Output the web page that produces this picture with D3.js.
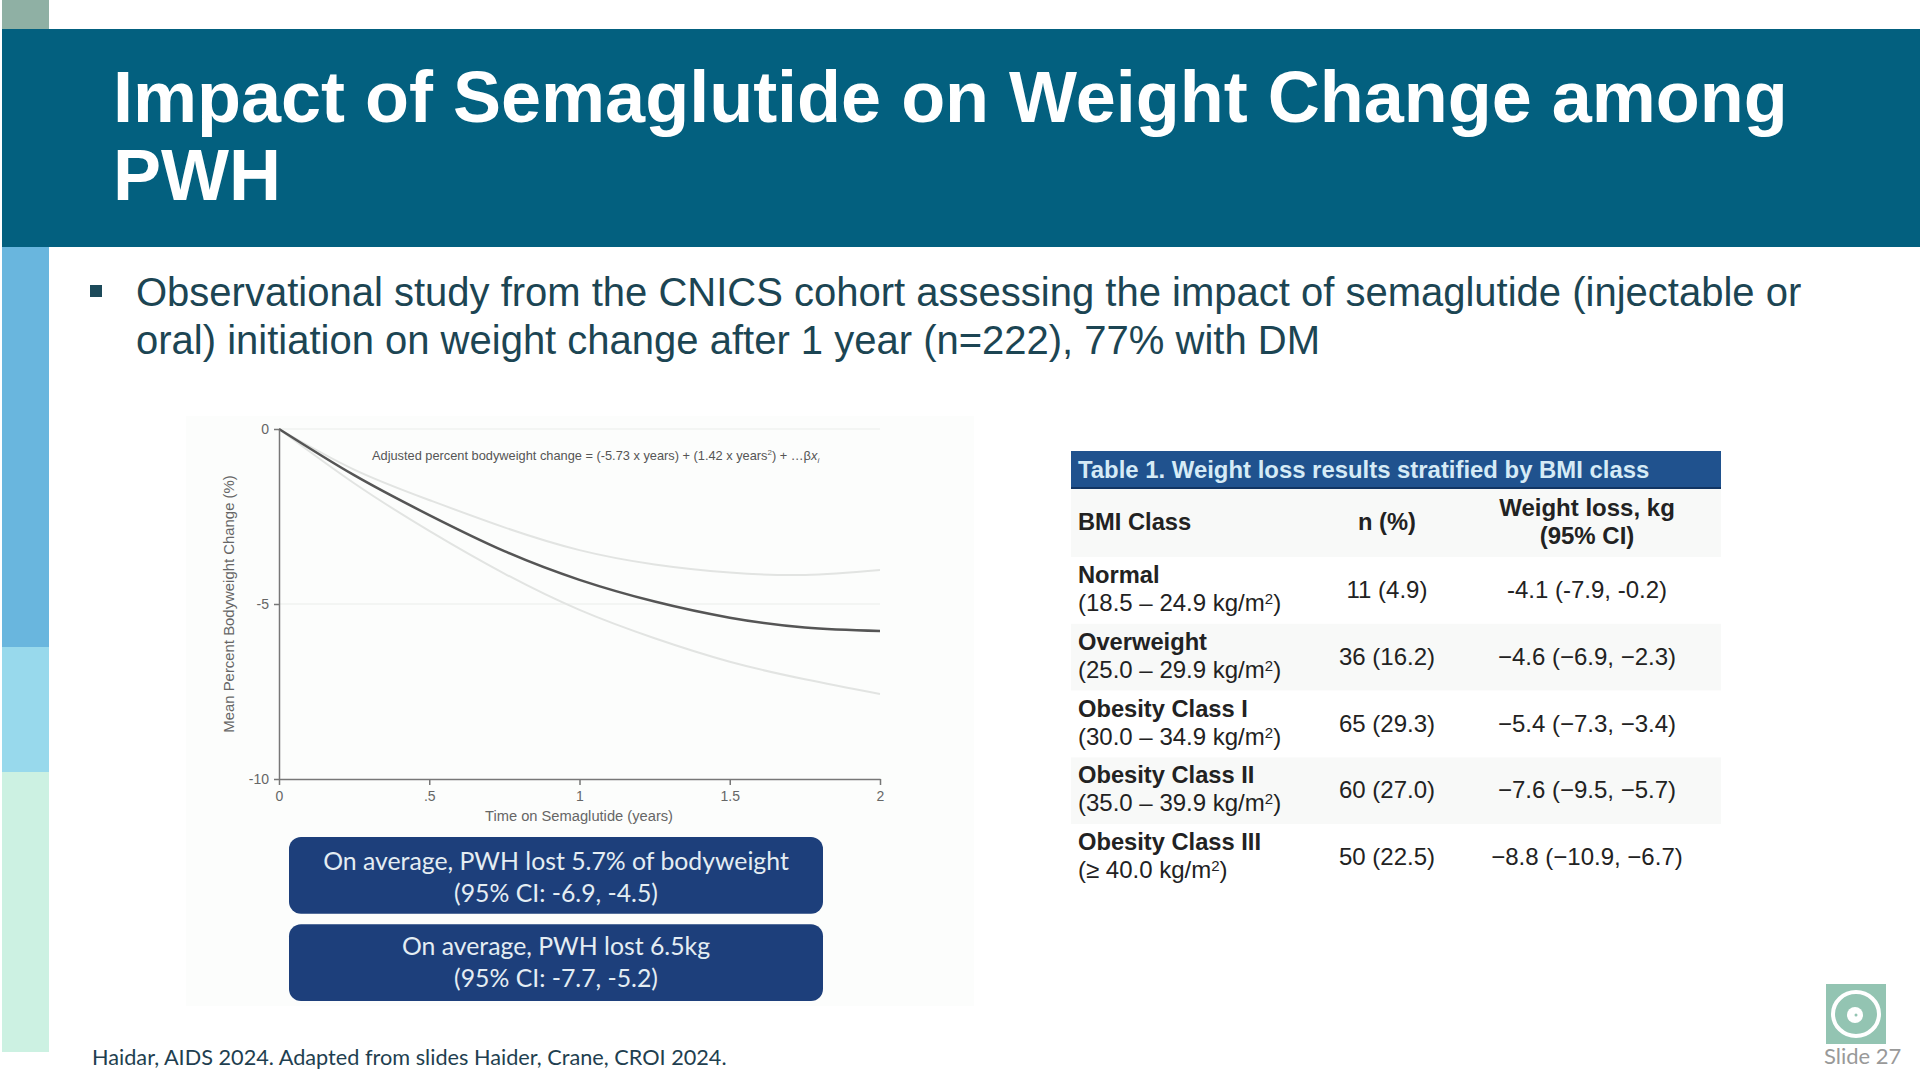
<!DOCTYPE html>
<html>
<head>
<meta charset="utf-8">
<title>Impact of Semaglutide on Weight Change among PWH</title>
<script src="https://cdn.jsdelivr.net/npm/d3@7"></script>
<style>
    html, body { margin: 0; padding: 0; background: #fff; }
    svg { display: block; }
    text { font-family: "Liberation Sans", Arial, sans-serif; }
    .calibri { font-family: Lato, "Open Sans", sans-serif; }
</style>
</head>
<body>
<div id="slide"></div>
<script>
"use strict";

// values
const years     = [0, 0.25, 0.5, 0.75, 1, 1.25, 1.5, 1.75, 2];
const meanPct   = [0, -1.32, -2.46, -3.49, -4.31, -4.93, -5.39, -5.67, -5.77];
const upperPct  = [0, -1.16, -2.03, -2.81, -3.46, -3.87, -4.1, -4.17, -4.03];
const lowerPct  = [0, -1.55, -2.91, -4.13, -5.17, -5.98, -6.65, -7.15, -7.57];

const xTicks      = [0, 0.5, 1, 1.5, 2];
const xTickLabels = ["0", ".5", "1", "1.5", "2"];
const yTicks      = [0, -5, -10];
const yTickLabels = ["0", "-5", "-10"];

const titleLines  = ["Impact of Semaglutide on Weight Change among", "PWH"];
const bulletLines = [
    "Observational study from the CNICS cohort assessing the impact of semaglutide (injectable or",
    "oral) initiation on weight change after 1 year (n=222), 77% with DM"
];

const bmiClasses = ["Normal", "Overweight", "Obesity Class I", "Obesity Class II", "Obesity Class III"];
const bmiRanges  = ["(18.5 – 24.9 kg/m", "(25.0 – 29.9 kg/m", "(30.0 – 34.9 kg/m", "(35.0 – 39.9 kg/m", "(≥ 40.0 kg/m"];
const nPercent   = ["11 (4.9)", "36 (16.2)", "65 (29.3)", "60 (27.0)", "50 (22.5)"];
const weightLoss = ["-4.1 (-7.9, -0.2)", "−4.6 (−6.9, −2.3)", "−5.4 (−7.3, −3.4)", "−7.6 (−9.5, −5.7)", "−8.8 (−10.9, −6.7)"];

const calloutLines = [
    ["On average, PWH lost 5.7% of bodyweight", "(95% CI: -6.9, -4.5)"],
    ["On average, PWH lost 6.5kg", "(95% CI: -7.7, -5.2)"]
];

const svg = d3.select("#slide").append("svg")
              .attr("width", 1920)
              .attr("height", 1080);

svg.append("rect").attr("width", 1920).attr("height", 1080).attr("fill", "#fff");

// left colour strip
const stripes = [
    { y0: 0,   y1: 29,   color: "#8fb0a4" },
    { y0: 247, y1: 647,  color: "#69b6de" },
    { y0: 647, y1: 772,  color: "#98d9ec" },
    { y0: 772, y1: 1052, color: "#ccf1e2" }
];
svg.selectAll(".stripe").data(stripes).enter().append("rect")
   .attr("class", "stripe")
   .attr("x", 2)
   .attr("y", d => d.y0)
   .attr("width", 47)
   .attr("height", d => d.y1 - d.y0)
   .attr("fill", d => d.color);

// title band
svg.append("rect")
   .attr("x", 2).attr("y", 29)
   .attr("width", 1918).attr("height", 218)
   .attr("fill", "#03607f");

svg.selectAll(".title").data(titleLines).enter().append("text")
   .attr("class", "title")
   .attr("x", 113)
   .attr("y", (d, i) => 122 + i * 78)
   .attr("fill", "#fff")
   .attr("font-size", 72)
   .attr("font-weight", "bold")
   .text(d => d);

// bullet
svg.append("rect")
   .attr("x", 90).attr("y", 285)
   .attr("width", 12).attr("height", 12)
   .attr("fill", "#1c4a5a");

svg.selectAll(".bullet").data(bulletLines).enter().append("text")
   .attr("class", "bullet")
   .attr("x", 136)
   .attr("y", (d, i) => 306 + i * 48)
   .attr("fill", "#1c4553")
   .attr("font-size", 40)
   .text(d => d);

// chart panel
svg.append("rect")
   .attr("x", 186).attr("y", 416)
   .attr("width", 788).attr("height", 590)
   .attr("fill", "#fcfdfc");

const x = d3.scaleLinear().domain([0, 2]).range([279, 880]);
const y = d3.scaleLinear().domain([0, -10]).range([429, 779]);

const grid = svg.append("g");
grid.selectAll("line").data([0, -5]).enter().append("line")
    .attr("x1", x(0)).attr("x2", x(2))
    .attr("y1", d => y(d)).attr("y2", d => y(d))
    .attr("stroke", "#f1f2f1")
    .attr("stroke-width", 1.5);

const line = d3.line()
               .x((d, i) => x(years[i]))
               .y(d => y(d))
               .curve(d3.curveNatural);

svg.append("path").attr("d", line(upperPct))
   .attr("fill", "none").attr("stroke", "#e2e4e2").attr("stroke-width", 2);
svg.append("path").attr("d", line(lowerPct))
   .attr("fill", "none").attr("stroke", "#e2e4e2").attr("stroke-width", 2);
svg.append("path").attr("d", line(meanPct))
   .attr("fill", "none").attr("stroke", "#555").attr("stroke-width", 2.5);

const xAxis = svg.append("g")
                 .attr("transform", `translate(0,${y(-10)})`)
                 .call(d3.axisBottom(x).tickValues(xTicks)
                         .tickFormat((d, i) => xTickLabels[i])
                         .tickSize(6).tickPadding(6).tickSizeOuter(0));
const yAxis = svg.append("g")
                 .attr("transform", `translate(${x(0)},0)`)
                 .call(d3.axisLeft(y).tickValues(yTicks)
                         .tickFormat((d, i) => yTickLabels[i])
                         .tickSize(5).tickPadding(5).tickSizeOuter(0));

[xAxis, yAxis].forEach(axis => {
    axis.selectAll("path, line").attr("stroke", "#777").attr("stroke-width", 1.5);
    axis.selectAll("text")
        .attr("fill", "#666")
        .style("font-family", '"Liberation Sans", Arial, sans-serif')
        .style("font-size", "14px");
});

svg.append("text")
   .attr("x", 579).attr("y", 821)
   .attr("text-anchor", "middle")
   .attr("fill", "#666")
   .attr("font-size", 14.7)
   .text("Time on Semaglutide (years)");

svg.append("text")
   .attr("transform", "translate(234,604) rotate(-90)")
   .attr("text-anchor", "middle")
   .attr("fill", "#666")
   .attr("font-size", 14.9)
   .text("Mean Percent Bodyweight Change (%)");

const equation = svg.append("text")
                    .attr("x", 372).attr("y", 460)
                    .attr("fill", "#555")
                    .attr("font-size", 12.8);
equation.append("tspan").text("Adjusted percent bodyweight change = (-5.73 x years) + (1.42 x years");
equation.append("tspan").attr("dy", -5).attr("font-size", 8).text("2");
equation.append("tspan").attr("dy", 5).text(") + …β");
equation.append("tspan").attr("font-style", "italic").text("x");
equation.append("tspan").attr("dy", 3).attr("font-size", 8).attr("font-style", "italic").text("i");

// callouts
const calloutY = d3.scaleBand().domain(d3.range(calloutLines.length)).range([837, 1001]).paddingInner(0.12);

const callouts = svg.selectAll(".callout").data(calloutLines).enter().append("g")
                    .attr("class", "callout")
                    .attr("transform", (d, i) => `translate(289,${calloutY(i)})`);

callouts.append("rect")
        .attr("width", 534)
        .attr("height", calloutY.bandwidth())
        .attr("rx", 12)
        .attr("fill", "#1d3f7b");

callouts.each(function(lines, box) {
    d3.select(this).selectAll("text").data(lines).enter().append("text")
      .attr("class", "calibri")
      .attr("x", 267)
      .attr("y", (d, i) => (box === 0 ? 33 : 31) + i * 32)
      .attr("text-anchor", "middle")
      .attr("fill", "#e4edf3")
      .attr("font-size", 24.8)
      .text(d => d);
});

// table
const rowY = d3.scaleBand().domain(d3.range(bmiClasses.length)).range([557, 891]);
const colN = 1387;
const colLoss = 1587;
const tableLeft = 1071;
const tableWidth = 650;
const tableText = "#222";
const labelX = 1078;

svg.append("rect")
   .attr("x", tableLeft).attr("y", 451)
   .attr("width", tableWidth).attr("height", 38)
   .attr("fill", "#20528e");
svg.append("rect")
   .attr("x", tableLeft).attr("y", 487)
   .attr("width", tableWidth).attr("height", 2.5)
   .attr("fill", "#123563");
svg.append("text")
   .attr("x", labelX).attr("y", 478)
   .attr("fill", "#d6ebf6")
   .attr("font-size", 23.9)
   .attr("font-weight", "bold")
   .text("Table 1. Weight loss results stratified by BMI class");

svg.append("rect")
   .attr("x", tableLeft).attr("y", 489)
   .attr("width", tableWidth).attr("height", 68)
   .attr("fill", "#f8f9f8");

svg.append("text")
   .attr("x", labelX).attr("y", 530)
   .attr("fill", tableText).attr("font-size", 23.7).attr("font-weight", "bold")
   .text("BMI Class");
svg.append("text")
   .attr("x", colN).attr("y", 530)
   .attr("text-anchor", "middle")
   .attr("fill", tableText).attr("font-size", 23.7).attr("font-weight", "bold")
   .text("n (%)");
svg.selectAll(".lossHead").data(["Weight loss, kg", "(95% CI)"]).enter().append("text")
   .attr("class", "lossHead")
   .attr("x", colLoss)
   .attr("y", (d, i) => 516 + i * 28)
   .attr("text-anchor", "middle")
   .attr("fill", tableText).attr("font-size", 24).attr("font-weight", "bold")
   .text(d => d);

const rows = svg.selectAll(".row").data(d3.range(bmiClasses.length)).enter().append("g")
                .attr("class", "row")
                .attr("transform", i => `translate(0,${rowY(i)})`);

rows.append("rect")
    .attr("x", tableLeft)
    .attr("width", tableWidth)
    .attr("height", rowY.bandwidth())
    .attr("fill", i => i % 2 === 1 ? "#f8f9f8" : "#fff");

rows.append("text")
    .attr("x", labelX).attr("y", 26)
    .attr("fill", tableText).attr("font-size", 23.7).attr("font-weight", "bold")
    .text(i => bmiClasses[i]);

const rangeText = rows.append("text")
                      .attr("x", labelX).attr("y", 54)
                      .attr("fill", tableText).attr("font-size", 24);
rangeText.append("tspan").text(i => bmiRanges[i]);
rangeText.append("tspan").attr("dy", -7).attr("font-size", 15).text("2");
rangeText.append("tspan").attr("dy", 7).text(")");

rows.append("text")
    .attr("x", colN).attr("y", 41)
    .attr("text-anchor", "middle")
    .attr("fill", tableText).attr("font-size", 24)
    .text(i => nPercent[i]);

rows.append("text")
    .attr("x", colLoss).attr("y", 41)
    .attr("text-anchor", "middle")
    .attr("fill", tableText).attr("font-size", 24)
    .text(i => weightLoss[i]);

// footer
svg.append("text")
   .attr("class", "calibri")
   .attr("x", 92).attr("y", 1065)
   .attr("fill", "#1f3f50")
   .attr("font-size", 21.7)
   .text("Haidar, AIDS 2024. Adapted from slides Haider, Crane, CROI 2024.");

// logo and slide number
svg.append("rect")
   .attr("x", 1826).attr("y", 984)
   .attr("width", 60).attr("height", 60)
   .attr("fill", "#93c4b2");
svg.append("ellipse")
   .attr("cx", 1856).attr("cy", 1014)
   .attr("rx", 23).attr("ry", 22)
   .attr("fill", "none").attr("stroke", "#fff").attr("stroke-width", 4);
svg.append("circle")
   .attr("cx", 1855).attr("cy", 1015).attr("r", 8)
   .attr("fill", "#fff");
svg.append("circle")
   .attr("cx", 1856).attr("cy", 1015).attr("r", 1.5)
   .attr("fill", "#93c4b2");
svg.append("text")
   .attr("class", "calibri")
   .attr("x", 1824).attr("y", 1064)
   .attr("fill", "#999")
   .attr("font-size", 22)
   .text("Slide 27");
</script>
</body>
</html>
